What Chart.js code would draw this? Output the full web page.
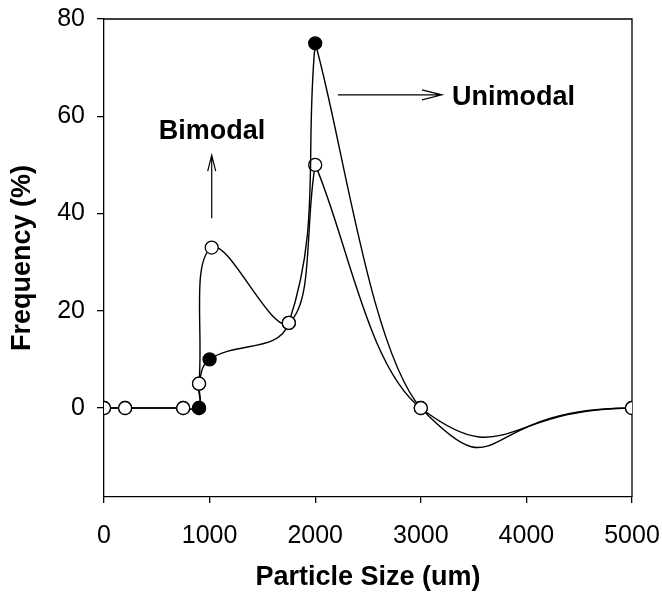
<!DOCTYPE html>
<html lang="en">
<head>
<meta charset="UTF-8">
<title>Particle Size Distribution</title>
<script src="https://cdn.jsdelivr.net/npm/chart.js"></script>
<style>
  html, body { margin: 0; padding: 0; background: #fff; }
  #wrap { width: 662px; height: 594px; position: relative; }
</style>
</head>
<body>
<div id="wrap"><canvas id="chart"></canvas></div>
<script>
// values
const bimodalX = [0, 200, 750, 900, 900, 1020, 1750, 2000, 3000, 5000];
const bimodalY = [0, 0, 0, 0, 5, 33, 17.5, 50, 0, 0];
const unimodalX = [0, 200, 750, 900, 900, 1000, 1750, 2000, 3000, 5000];
const unimodalY = [0, 0, 0, 0, 5, 10, 17.5, 75, 0, 0];
const unimodalSolid = [3, 5, 7]; // points drawn as filled circles
const peakIndex = 7;

const xTicks = [0, 1000, 2000, 3000, 4000, 5000];
const yTicks = [0, 20, 40, 60, 80];

// annotation text and arrows, in data units
const bimodalLabel = { text: 'Bimodal', x: 1023, y: 56.8 };
const bimodalArrow = { x0: 1020, y0: 39, x1: 1020, y1: 52 };
const unimodalLabel = { text: 'Unimodal', x: 3295, y: 63.8 };
const unimodalArrow = { x0: 2215, y0: 64.4, x1: 3200, y1: 64.4 };

const FONT = '"Liberation Sans", Arial, Helvetica, sans-serif';

function pts(xs, ys) {
  return xs.map((x, i) => ({ x: x, y: ys[i] }));
}

const uniPts = pts(unimodalX, unimodalY);
const biPts = pts(bimodalX, bimodalY);

const base = {
  borderColor: '#000',
  borderWidth: 1.4,
  pointRadius: 6.5,
  pointHoverRadius: 6.5,
  pointBorderColor: '#000',
  pointBorderWidth: 1.3,
  pointBackgroundColor: '#fff',
  fill: false
};

// after the peak each curve is drawn as two pieces over the same three points
// (peak, 3000, 5000) so each piece gets its own bend; only one segment of each is shown
function tailPiece(points, tension, shown, withPoints) {
  return Object.assign({}, base, {
    data: points.slice(peakIndex),
    tension: tension,
    pointRadius: ctx => withPoints && ctx.dataIndex > 0 ? 6.5 : 0,
    segment: { borderColor: ctx => ctx.p0DataIndex === shown ? '#000' : 'rgba(0,0,0,0)' }
  });
}

const datasets = [
  tailPiece(uniPts, 0.76, 1, true),
  tailPiece(biPts, 0.61, 1, true),
  Object.assign({}, base, {
    label: 'Unimodal',
    data: uniPts.slice(0, peakIndex + 1),
    tension: 0.4,
    pointBackgroundColor: ctx => unimodalSolid.includes(ctx.dataIndex) ? '#000' : '#fff'
  }),
  Object.assign({}, base, {
    label: 'Bimodal',
    data: biPts.slice(0, peakIndex + 1),
    tension: 0.4
  }),
  tailPiece(uniPts, 0.25, 0, false),
  tailPiece(biPts, 0.3, 0, false)
];

function arrow(ctx, x0, y0, x1, y1, len, half) {
  const a = Math.atan2(y1 - y0, x1 - x0);
  ctx.beginPath();
  ctx.moveTo(x0, y0);
  ctx.lineTo(x1, y1);
  ctx.moveTo(x1 - len * Math.cos(a) + half * Math.sin(a), y1 - len * Math.sin(a) - half * Math.cos(a));
  ctx.lineTo(x1, y1);
  ctx.lineTo(x1 - len * Math.cos(a) - half * Math.sin(a), y1 - len * Math.sin(a) + half * Math.cos(a));
  ctx.stroke();
}

const framePlugin = {
  id: 'frame',
  beforeDatasetsDraw(chart) {
    const { ctx, chartArea: a } = chart;
    ctx.save();
    ctx.strokeStyle = '#000';
    ctx.lineWidth = 1.3;
    ctx.beginPath();
    ctx.moveTo(a.left, a.top);
    ctx.lineTo(a.right, a.top);
    ctx.lineTo(a.right, a.bottom);
    ctx.stroke();
    ctx.restore();
  },
  afterDatasetsDraw(chart) {
    const { ctx, scales: { x, y } } = chart;
    ctx.save();
    ctx.strokeStyle = '#000';
    ctx.lineWidth = 1.2;
    arrow(ctx, x.getPixelForValue(bimodalArrow.x0), y.getPixelForValue(bimodalArrow.y0),
      x.getPixelForValue(bimodalArrow.x1), y.getPixelForValue(bimodalArrow.y1), 16, 4);
    arrow(ctx, x.getPixelForValue(unimodalArrow.x0), y.getPixelForValue(unimodalArrow.y0),
      x.getPixelForValue(unimodalArrow.x1), y.getPixelForValue(unimodalArrow.y1), 20, 5);
    ctx.fillStyle = '#000';
    ctx.font = 'bold 27px ' + FONT;
    ctx.textBaseline = 'middle';
    ctx.textAlign = 'center';
    ctx.fillText(bimodalLabel.text, x.getPixelForValue(bimodalLabel.x), y.getPixelForValue(bimodalLabel.y));
    ctx.textAlign = 'left';
    ctx.fillText(unimodalLabel.text, x.getPixelForValue(unimodalLabel.x), y.getPixelForValue(unimodalLabel.y));
    ctx.restore();
  }
};

new Chart(document.getElementById('chart'), {
  type: 'line',
  data: { datasets: datasets },
  plugins: [framePlugin],
  options: {
    responsive: true,
    maintainAspectRatio: false,
    animation: false,
    layout: { padding: { left: 0, top: 19, right: 30, bottom: 0 } },
    plugins: {
      legend: { display: false },
      tooltip: { enabled: false }
    },
    scales: {
      x: {
        type: 'linear',
        min: 0,
        max: 5000,
        afterBuildTicks: s => { s.ticks = xTicks.map(v => ({ value: v })); },
        afterFit: s => { s.height = 97; s.paddingLeft = 0; s.paddingRight = 0; },
        border: { color: '#000', width: 1.3 },
        grid: { drawOnChartArea: false, color: '#000', lineWidth: 1.3, tickLength: 6 },
        ticks: {
          color: '#000',
          font: { size: 25, family: FONT },
          padding: 18,
          maxRotation: 0,
          callback: v => String(v)
        },
        title: {
          display: true,
          text: 'Particle Size (um)',
          color: '#000',
          font: { size: 27, weight: 'bold', family: FONT },
          padding: { top: 0, bottom: 0 }
        }
      },
      y: {
        type: 'linear',
        min: -18.3,
        max: 80,
        afterBuildTicks: s => { s.ticks = yTicks.map(v => ({ value: v })); },
        afterFit: s => { s.width = 104; s.paddingTop = 0; s.paddingBottom = 0; },
        border: { color: '#000', width: 1.3 },
        grid: { drawOnChartArea: false, color: '#000', lineWidth: 1.3, tickLength: 7 },
        ticks: {
          color: '#000',
          font: { size: 25, family: FONT },
          padding: 12,
          callback: v => String(v)
        },
        title: {
          display: true,
          text: 'Frequency (%)',
          color: '#000',
          font: { size: 27, weight: 'bold', family: FONT },
          padding: { top: 6, bottom: 0 }
        }
      }
    }
  }
});
</script>
</body>
</html>
